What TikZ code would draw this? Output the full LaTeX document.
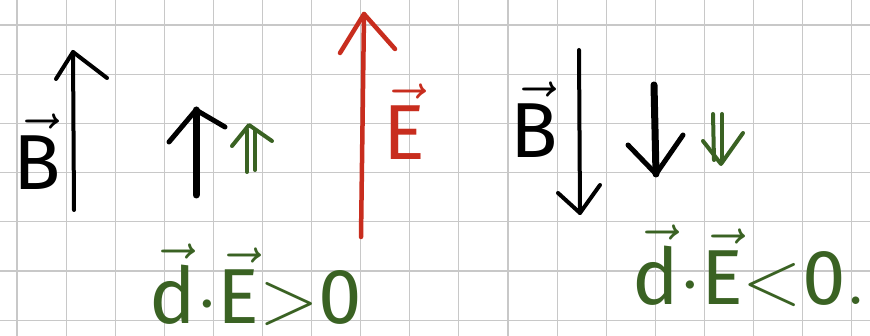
\RequirePackage{fix-cm}
\documentclass[tikz,border=0pt]{standalone}
\usepackage{fontspec}
\setsansfont{Fira Sans}
\definecolor{penred}{RGB}{200,45,30}
\definecolor{pengreen}{RGB}{58,98,35}
\definecolor{gridgray}{RGB}{200,200,200}
\begin{document}
\begin{tikzpicture}[x=1pt,y=-1pt,
  gridline/.style={draw=gridgray, line width=1.1pt},
  ink/.style={line cap=round, line join=round},
  blackpen/.style={ink, draw=black, line width=4pt},
  thickpen/.style={ink, draw=black, line width=7pt},
  redpen/.style={ink, draw=penred, line width=4.5pt},
  greenpen/.style={ink, draw=pengreen, line width=4pt},
  lbl/.style={anchor=base, inner sep=0pt, text depth=0pt, font=\fontsize{78}{78}\selectfont},
  glbl/.style={lbl, text=pengreen}
]
\useasboundingbox (0,0) rectangle (870,336);
\fill[white] (0,0) rectangle (870,336);
\foreach \i in {0,...,17} \draw[gridline] ({17+49.1*\i},0) -- ({17+49.1*\i},336);
\foreach \j in {0,...,6} \draw[gridline] (0,{25+49.2*\j}) -- (870,{25+49.2*\j});

% B up
\coordinate (B1tail) at (74,210);
\coordinate (B1tip) at (73,52);
\draw[blackpen] (B1tail) -- (B1tip);
\draw[blackpen] (56,79) -- (B1tip) -- (107,78);
\node[lbl] (B1) at (37,190) {$\vec{\textsf{B}}$};

% small black up
\coordinate (s1tail) at (196,195);
\coordinate (s1tip) at (196,110);
\draw[thickpen] (s1tail) -- (s1tip);
\draw[thickpen, line width=5pt] (169,142) -- (s1tip) -- (225,127);

% green up double
\coordinate (g1tip) at (249,125);
\draw[greenpen] (247,172) -- (247,130);
\draw[greenpen] (255,170) -- (255,130);
\draw[greenpen] (232,146) -- (g1tip) -- (272,141);

\node[glbl] (t1) at (256,324) {$\vec{\textsf{d}}{\cdot}\vec{\textsf{E}}{>}\textsf{0}$};

% red E
\coordinate (Etail) at (361,237);
\coordinate (Etip) at (364,14);
\draw[redpen] (Etail) -- (Etip);
\draw[redpen] (340,53) -- (Etip) -- (395,49);
\node[lbl, text=penred] (E) at (404,160) {$\vec{\textsf{E}}$};

% B down
\coordinate (B2tail) at (579,50);
\coordinate (B2tip) at (580,213);
\draw[blackpen] (B2tail) -- (B2tip);
\draw[blackpen] (558,193) -- (B2tip) -- (600,185);
\node[lbl] (B2) at (534,158) {$\vec{\textsf{B}}$};

% small black down
\coordinate (s2tail) at (654,85);
\coordinate (s2tip) at (656,174);
\draw[thickpen] (s2tail) -- (s2tip);
\draw[thickpen, line width=5pt] (628,145) -- (s2tip) -- (683,135);

% green down double
\coordinate (g2tip) at (721,164);
\draw[greenpen] (713,114) -- (714,160);
\draw[greenpen] (722,114) -- (722,160);
\draw[greenpen] (703,141) -- (g2tip) -- (743,133);

\node[glbl] (t2) at (750,305) {$\vec{\textsf{d}}{\cdot}\vec{\textsf{E}}{<}\textsf{0}.$};
\end{tikzpicture}
\end{document}
